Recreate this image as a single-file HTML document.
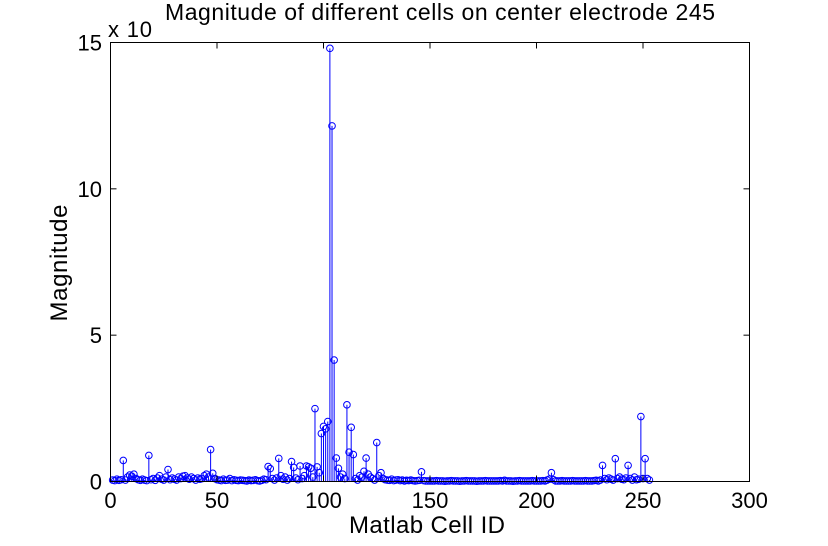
<!DOCTYPE html>
<html><head><meta charset="utf-8"><style>
body{margin:0;background:#fff;}
svg text{font-family:"Liberation Sans",sans-serif;fill:#000;}
</style></head><body>
<svg id="chart" width="828" height="541" viewBox="0 0 828 541" xmlns="http://www.w3.org/2000/svg">
<rect x="0" y="0" width="828" height="541" fill="#fff"/>
<g id="marks"></g>
<rect x="110.5" y="42.5" width="639" height="439" fill="none" stroke="#000"/>
<g id="ticks"></g>
<text x="108" y="37" font-size="22" textLength="44">x 10</text>
<text x="440" y="20" font-size="23" text-anchor="middle" textLength="550">Magnitude of different cells on center electrode 245</text>
<text x="427" y="533" font-size="24" text-anchor="middle" textLength="156">Matlab Cell ID</text>
<text transform="translate(67,263) rotate(-90)" font-size="24" text-anchor="middle" textLength="117">Magnitude</text>
</svg>
<script>
const values = [
.05,.03,.08,.04,.06,.72,.05,.15,.22,.18,
.25,.1,.06,.04,.08,.05,.03,.89,.06,.1,
.04,.12,.2,.08,.05,.15,.41,.06,.12,.08,
.05,.15,.1,.18,.2,.12,.08,.15,.1,.05,
.12,.08,.1,.2,.25,.15,1.09,.28,.1,.06,
.05,.03,.08,.04,.05,.1,.03,.06,.04,.03,
.05,.04,.03,.02,.05,.03,.04,.06,.03,.02,
.04,.08,.06,.51,.44,.1,.05,.12,.79,.2,
.08,.15,.05,.1,.68,.48,.12,.06,.53,.1,
.2,.53,.5,.45,.15,2.49,.5,.3,1.64,1.88,
1.8,2.05,14.8,12.15,4.15,.8,.45,.15,.25,.1,
2.62,1.0,1.85,.92,.1,.05,.2,.15,.35,.8,
.25,.15,.1,.05,1.33,.2,.3,.1,.06,.05,
.04,.08,.03,.05,.06,.03,.05,.02,.04,.03,
.05,.03,.02,.03,.04,.33,.03,.02,.02,.02,
.02,.02,.03,.02,.02,.02,.01,.02,.02,.03,
.02,.02,.02,.01,.02,.02,.03,.02,.02,.02,
.02,.01,.02,.02,.02,.03,.02,.02,.02,.02,
.02,.02,.03,.02,.04,.02,.02,.02,.01,.02,
.02,.03,.02,.02,.02,.02,.02,.03,.02,.02,
.02,.02,.03,.02,.05,.08,.3,.06,.02,.02,
.02,.03,.02,.02,.02,.02,.03,.02,.02,.02,
.02,.02,.03,.02,.02,.02,.03,.04,.02,.05,
.55,.1,.06,.12,.08,.05,.78,.1,.15,.08,
.06,.12,.55,.1,.05,.15,.06,.08,2.22,.1,
.78,.1,.05
];
const xTicks = [0,50,100,150,200,250,300];
const yTicks = [0,5,10,15];
const X0=110.5,X1=749.5,Y0=481.5,Y1=42.5;
function sx(v){return X0+(v-0)/(300-0)*(X1-X0);}
function sy(v){return Y0-(v-0)/(15-0)*(Y0-Y1);}
const NS="http://www.w3.org/2000/svg";
const marks=document.getElementById('marks');
values.forEach((v,i)=>{
  const x=sx(i+1), y=sy(v);
  const l=document.createElementNS(NS,'line');
  l.setAttribute('x1',x);l.setAttribute('x2',x);l.setAttribute('y1',sy(0));l.setAttribute('y2',y);
  l.setAttribute('stroke','#0000ff');l.setAttribute('stroke-width','1');
  
  
  marks.appendChild(l);
  const c=document.createElementNS(NS,'circle');
  c.setAttribute('cx',x);c.setAttribute('cy',y);c.setAttribute('r','3.3');
  c.setAttribute('fill','none');c.setAttribute('stroke','#0000ff');c.setAttribute('stroke-width','1');
  
  
  marks.appendChild(c);
});
const tk=document.getElementById('ticks');
xTicks.forEach(t=>{
  const x=sx(t);
  [[Y0,Y0-6],[Y1,Y1+6]].forEach(p=>{
    const l=document.createElementNS(NS,'line');
    l.setAttribute('x1',x);l.setAttribute('x2',x);l.setAttribute('y1',p[0]);l.setAttribute('y2',p[1]);l.setAttribute('stroke','#000');
    
    
    tk.appendChild(l);
  });
  const s=document.createElementNS(NS,'text');
  s.setAttribute('x',x);s.setAttribute('y',508);s.setAttribute('font-size','22');s.setAttribute('text-anchor','middle');
  s.textContent=t;
  
  
  tk.appendChild(s);
});
yTicks.forEach(t=>{
  const y=sy(t);
  [[X0,X0+6],[X1,X1-6]].forEach(p=>{
    const l=document.createElementNS(NS,'line');
    l.setAttribute('y1',y);l.setAttribute('y2',y);l.setAttribute('x1',p[0]);l.setAttribute('x2',p[1]);l.setAttribute('stroke','#000');
    
    
    tk.appendChild(l);
  });
  const s=document.createElementNS(NS,'text');
  s.setAttribute('x',102);s.setAttribute('y',y+8);s.setAttribute('font-size','22');s.setAttribute('text-anchor','end');
  s.textContent=t;
  
  
  tk.appendChild(s);
});
</script>
</body></html>
